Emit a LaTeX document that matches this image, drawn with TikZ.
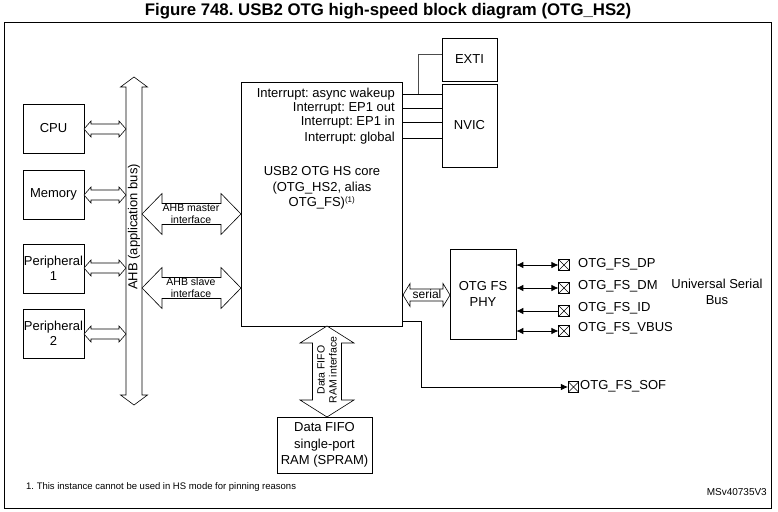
\documentclass[tikz,border=0pt]{standalone}
\usepackage{fontspec}
\setmainfont{Liberation Sans}
\usetikzlibrary{arrows.meta,calc}
\frenchspacing
\newcommand{\hdarr}[6]{% x1 x2 y shaft head len
  \draw[fill=white,line width=0.6pt] (#1,#3) -- ({#1+#6},{#3-#5}) -- ({#1+#6},{#3-#4}) -- ({#2-#6},{#3-#4}) -- ({#2-#6},{#3-#5}) -- (#2,#3) -- ({#2-#6},{#3+#5}) -- ({#2-#6},{#3+#4}) -- ({#1+#6},{#3+#4}) -- ({#1+#6},{#3+#5}) -- cycle;}
\newcommand{\vdarr}[6]{% x y1 y2 shaft head len
  \draw[fill=white,line width=0.6pt] (#1,#2) -- ({#1+#5},{#2+#6}) -- ({#1+#4},{#2+#6}) -- ({#1+#4},{#3-#6}) -- ({#1+#5},{#3-#6}) -- (#1,#3) -- ({#1-#5},{#3-#6}) -- ({#1-#4},{#3-#6}) -- ({#1-#4},{#2+#6}) -- ({#1-#5},{#2+#6}) -- cycle;}
\begin{document}
\begin{tikzpicture}[x=1pt,y=-1pt,
  >={Latex[length=7pt,width=6.5pt]},
  box/.style={draw,line width=0.7pt,inner sep=0pt,align=center,font=\fontsize{13}{15.5}\selectfont},
  lbl/.style={inner sep=0pt,font=\fontsize{13}{15.5}\selectfont},
  small/.style={inner sep=0pt,align=center,font=\fontsize{10.5}{12}\selectfont},
  pad/.style={draw,line width=0.6pt,minimum size=10.5pt,inner sep=0pt,
    path picture={\draw[line width=0.5pt] (path picture bounding box.south west) -- (path picture bounding box.north east) (path picture bounding box.north west) -- (path picture bounding box.south east);}},
  wire/.style={line width=0.8pt}
]
\useasboundingbox (0,0) rectangle (778,511);
\node[font=\fontsize{16.8}{18}\selectfont\bfseries,inner sep=0pt] (title) at (388,11) {Figure 748. USB2 OTG high-speed block diagram (OTG\_HS2)};
\draw[line width=0.8pt] (4.5,22) rectangle (771,508);

% left boxes
\node[box,minimum width=61pt,minimum height=49pt] (cpu) at (53.5,128.5) {CPU};
\node[box,minimum width=61pt,minimum height=49pt] (mem) at (53.5,194.5) {Memory};
\node[box,minimum width=61pt,minimum height=49pt] (p1) at (53.5,268.5) {Peripheral\\1};
\node[box,minimum width=61pt,minimum height=49pt] (p2) at (53.5,333.5) {Peripheral\\2};

% bus
\vdarr{134}{77}{405}{8}{13.5}{10}
\node[lbl,rotate=90] (ahb) at (134,227) {AHB (application bus)};
\hdarr{84}{126}{129}{5}{8}{7}
\hdarr{84}{126}{195}{5}{8}{7}
\hdarr{84}{126}{268}{5}{8}{7}
\hdarr{84}{126}{334}{5}{8}{7}

% core
\node[box,minimum width=161pt,minimum height=244pt] (core) at (321.5,204) {};
\node[lbl,anchor=east] (i1) at (395,94) {Interrupt: async wakeup};
\node[lbl,anchor=east] (i2) at (395,108) {Interrupt: EP1 out};
\node[lbl,anchor=east] (i3) at (395,122) {Interrupt: EP1 in};
\node[lbl,anchor=east] (i4) at (395,138) {Interrupt: global};
\node[lbl,align=center] (coretxt) at (322,188) {USB2 OTG HS core\\(OTG\_HS2, alias\\OTG\_FS)\textsuperscript{\fontsize{8}{8}\selectfont(1)}};

% master / slave
\hdarr{142}{241}{214}{10.5}{20.5}{20}
\node[small] (mst) at (191,214) {AHB master\\interface};
\hdarr{142}{241}{288}{10.5}{20.5}{20}
\node[small] (slv) at (191,288) {AHB slave\\interface};

% EXTI / NVIC
\node[box,minimum width=55pt,minimum height=43pt] (exti) at (469.5,59.5) {EXTI};
\node[box,minimum width=55pt,minimum height=83pt] (nvic) at (469.5,125.5) {NVIC};
\foreach \i in {i1,i2,i3,i4}{
  \draw[wire] (\i.east -| core.east) -- (\i.east -| nvic.west);
}
\coordinate (br) at (418,94);
\draw[wire,draw=black!70] (br) |- ($(exti.west)+(0,-5)$);

% PHY
\node[box,minimum width=66pt,minimum height=90pt] (phy) at (483,294) {OTG FS\\PHY};
\hdarr{403}{450}{295}{6}{11.5}{7}
\node[inner sep=0pt,font=\fontsize{12}{14}\selectfont] (serial) at (427,294) {serial};

\node[pad] (dp) at (564,265) {};
\node[pad] (dm) at (564,288) {};
\node[pad] (id) at (564,311) {};
\node[pad] (vb) at (564,331) {};
\draw[wire,<->] (phy.east |- dp.west) -- (dp.west);
\draw[wire,<->] (phy.east |- dm.west) -- (dm.west);
\draw[wire,<-] (phy.east |- id.west) -- (id.west);
\draw[wire,<->] (phy.east |- vb.west) -- (vb.west);
\node[lbl,anchor=west] (dpt) at (578,264) {OTG\_FS\_DP};
\node[lbl,anchor=west] (dmt) at (578,286) {OTG\_FS\_DM};
\node[lbl,anchor=west] (idt) at (578,308) {OTG\_FS\_ID};
\node[lbl,anchor=west] (vbt) at (578,328) {OTG\_FS\_VBUS};
\node[lbl,align=center] (usb) at (717,292) {Universal Serial\\Bus};

% SOF
\node[pad] (sof) at (573.5,387) {};
\node[lbl,anchor=west] (soft) at (580,386) {OTG\_FS\_SOF};
\coordinate (sofbend) at (421,387);
\draw[wire,->] ($(core.south east)+(0,-5)$) -| (sofbend) -- (sof.west);

% FIFO
\vdarr{327}{326}{417}{14.5}{27}{17}
\node[small,rotate=90] (fifo) at (327,370) {Data FIFO\\RAM interface};
\node[box,minimum width=95pt,minimum height=56pt,font=\fontsize{13}{16.5}\selectfont] (ram) at (324.5,445) {Data FIFO\\single-port\\RAM (SPRAM)};

% footnote
\node[inner sep=0pt,anchor=west,font=\fontsize{9.5}{11}\selectfont] (fn) at (26,487) {1. This instance cannot be used in HS mode for pinning reasons};
\node[inner sep=0pt,anchor=east,font=\fontsize{10}{12}\selectfont] (ms) at (767,492) {MSv40735V3};
\end{tikzpicture}
\end{document}
